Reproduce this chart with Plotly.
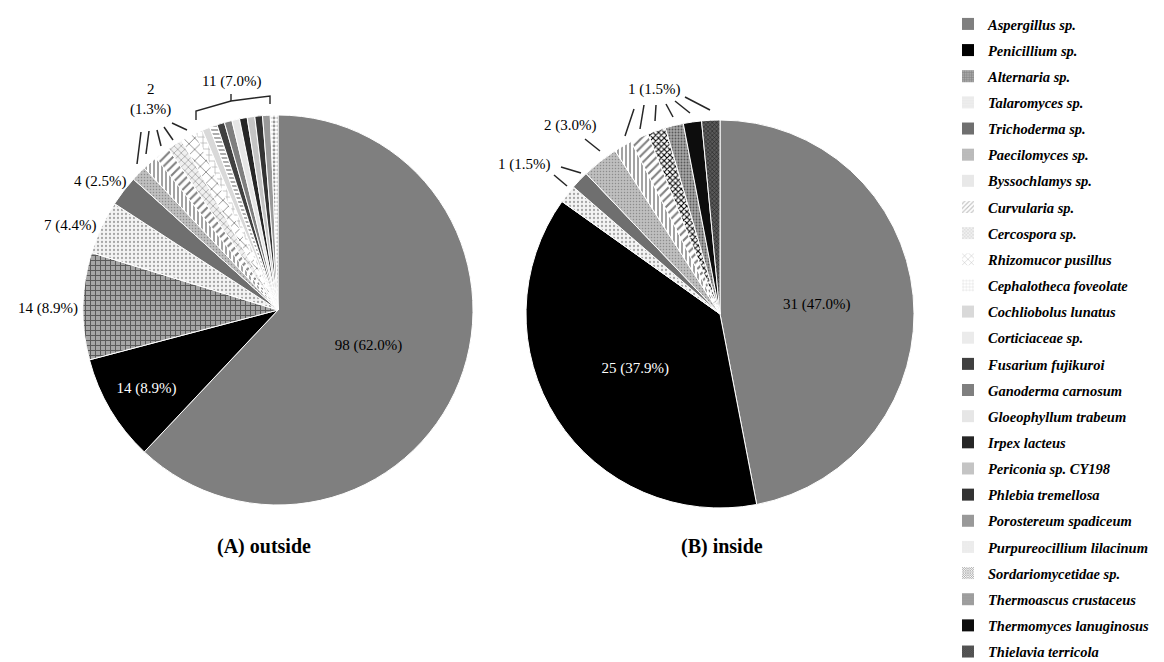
import plotly.graph_objects as go

# ---------------- data ----------------
categories = [
    "Aspergillus sp.", "Penicillium sp.", "Alternaria sp.", "Talaromyces sp.",
    "Trichoderma sp.", "Paecilomyces sp.", "Byssochlamys sp.", "Curvularia sp.",
    "Cercospora sp.", "Rhizomucor pusillus", "Cephalotheca foveolate",
    "Cochliobolus lunatus", "Corticiaceae sp.", "Fusarium fujikuroi",
    "Ganoderma carnosum", "Gloeophyllum trabeum", "Irpex lacteus",
    "Periconia sp. CY198", "Phlebia tremellosa", "Porostereum spadiceum",
    "Purpureocillium lilacinum", "Sordariomycetidae sp.",
    "Thermoascus crustaceus", "Thermomyces lanuginosus", "Thielavia terricola",
]
outside_counts = [98, 14, 14, 7, 4, 2, 2, 2, 2, 2,
                  1, 1, 1, 1, 1, 1, 1, 1, 1, 1, 1,
                  0, 0, 0, 0]
inside_counts = [31, 25, 0, 1, 1, 2, 1, 1, 0, 0,
                 0, 0, 0, 0, 0, 0, 0, 0, 0, 0, 0,
                 1, 1, 1, 1]
panel_titles = ["(A) outside", "(B) inside"]

# ---------------- styles (bg, fg, pattern shape, size, solidity) ----------------
styles = {
    "Aspergillus sp.": ("#7f7f7f", "#7f7f7f", "", 8, 0.3),
    "Penicillium sp.": ("#000000", "#000000", "", 8, 0.3),
    "Alternaria sp.": ("#a6a6a6", "#595959", "+", 5, 0.35),
    "Talaromyces sp.": ("#f4f4f4", "#a6a6a6", ".", 4, 0.25),
    "Trichoderma sp.": ("#6f6f6f", "#6f6f6f", "", 8, 0.3),
    "Paecilomyces sp.": ("#bfbfbf", "#8c8c8c", ".", 3, 0.2),
    "Byssochlamys sp.": ("#ffffff", "#8c8c8c", "|", 4, 0.4),
    "Curvularia sp.": ("#ffffff", "#808080", "/", 6, 0.35),
    "Cercospora sp.": ("#f0f0f0", "#999999", "x", 5, 0.25),
    "Rhizomucor pusillus": ("#ffffff", "#595959", "x", 8, 0.15),
    "Cephalotheca foveolate": ("#ffffff", "#a6a6a6", "+", 6, 0.2),
    "Cochliobolus lunatus": ("#d9d9d9", "#d9d9d9", "", 8, 0.3),
    "Corticiaceae sp.": ("#ffffff", "#999999", "-", 4, 0.4),
    "Fusarium fujikuroi": ("#404040", "#404040", "", 8, 0.3),
    "Ganoderma carnosum": ("#7f7f7f", "#7f7f7f", "", 8, 0.3),
    "Gloeophyllum trabeum": ("#e6e6e6", "#e6e6e6", "", 8, 0.3),
    "Irpex lacteus": ("#262626", "#262626", "", 8, 0.3),
    "Periconia sp. CY198": ("#c4c4c4", "#c4c4c4", "", 8, 0.3),
    "Phlebia tremellosa": ("#333333", "#333333", "", 8, 0.3),
    "Porostereum spadiceum": ("#999999", "#999999", "", 8, 0.3),
    "Purpureocillium lilacinum": ("#ffffff", "#999999", ".", 4, 0.4),
    "Sordariomycetidae sp.": ("#ffffff", "#000000", "x", 4, 0.45),
    "Thermoascus crustaceus": ("#a6a6a6", "#595959", ".", 3, 0.3),
    "Thermomyces lanuginosus": ("#0d0d0d", "#0d0d0d", "", 8, 0.3),
    "Thielavia terricola": ("#595959", "#1a1a1a", "x", 3, 0.3),
}

W, H = 1164, 662
def fx(x):
    return x / W
def fy(y):
    return 1 - y / H

SERIF = "Liberation Serif"

# pie placement (pixel centre, radius)
pie_geom = [(270, 302, 195), (712, 306, 194)]
big_text_colors = {"Aspergillus sp.": "black", "Penicillium sp.": "white"}

fig = go.Figure()

for counts, (cx, cy, r) in zip([outside_counts, inside_counts], pie_geom):
    labs, vals = [], []
    for c, v in zip(categories, counts):
        if v > 0:
            labs.append(c)
            vals.append(v)
    st = [styles[c] for c in labs]
    big = [c in big_text_colors for c in labs]
    fig.add_trace(go.Pie(
        labels=labs, values=vals, sort=False, direction="clockwise", rotation=0,
        domain=dict(x=[fx(cx - r), fx(cx + r)], y=[fy(cy + r), fy(cy - r)]),
        marker=dict(
            colors=[s[0] for s in st],
            line=dict(color="white", width=1),
            pattern=dict(
                shape=[s[2] for s in st],
                fgcolor=[s[1] for s in st],
                bgcolor=[s[0] for s in st],
                size=[s[3] for s in st],
                solidity=[s[4] for s in st],
                fillmode="replace",
            ),
        ),
        texttemplate=["%{value} (%{percent:.1%})" if b else "" for b in big],
        textposition=["inside" if b else "none" for b in big],
        insidetextorientation="horizontal",
        textfont=dict(family=SERIF, size=15,
                      color=[big_text_colors.get(c, "black") for c in labs]),
        showlegend=False,
        hoverinfo="label+value+percent",
    ))

# legend entries (patterned swatches), one group per category for spacing
for c in categories:
    bg, fg, shp, sz, sol = styles[c]
    fig.add_trace(go.Bar(
        x=[None], y=[None], name=c, legendgroup=c, showlegend=True,
        marker=dict(color=bg, line=dict(width=0),
                    pattern=dict(shape=shp, fgcolor=fg, bgcolor=bg,
                                 size=max(sz - 2, 2), solidity=sol)),
    ))

# outside labels
tot_o = sum(outside_counts)
tot_i = sum(inside_counts)
def lab(v, tot, br=False):
    sep = "<br>" if br else " "
    return f"{v}{sep}({v / tot * 100:.1f}%)"

label_specs = [
    (lab(outside_counts[2], tot_o), 40, 300),
    (lab(outside_counts[3], tot_o), 62, 217),
    (lab(outside_counts[4], tot_o), 93, 173),
    (lab(outside_counts[5], tot_o, br=True), 142, 92),
    (lab(sum(outside_counts[10:21]), tot_o), 223, 73),
    (lab(inside_counts[6], tot_i), 646, 82),
    (lab(inside_counts[5], tot_i), 562, 118),
    (lab(inside_counts[3], tot_i), 516, 156),
]
annotations = []
for text, x, y in label_specs:
    annotations.append(dict(text=text, x=fx(x), y=fy(y), xref="paper", yref="paper",
                            showarrow=False, xanchor="center", yanchor="middle",
                            font=dict(family=SERIF, size=15, color="black")))

title_pos = [(256, 538), (714, 538)]
for t, (x, y) in zip(panel_titles, title_pos):
    annotations.append(dict(text=f"<b>{t}</b>", x=fx(x), y=fy(y), xref="paper", yref="paper",
                            showarrow=False, xanchor="center", yanchor="middle",
                            font=dict(family=SERIF, size=20, color="black")))

# leader lines (pixel endpoints)
leaders = [
    (133, 124, 129, 156), (141, 123, 138, 146), (149, 122, 153, 138),
    (156, 119, 165, 132), (164, 115, 179, 122),
    (626, 101, 617, 128), (636, 97, 632, 121), (648, 97, 647, 113),
    (658, 96, 665, 109), (667, 93, 682, 105), (677, 89, 702, 102),
    (577, 131, 592, 143),
    (553, 159, 573, 165), (546, 167, 559, 178),
]
shapes = []
for x0, y0, x1, y1 in leaders:
    shapes.append(dict(type="line", xref="paper", yref="paper",
                       x0=fx(x0), y0=fy(y0), x1=fx(x1), y1=fy(y1),
                       line=dict(color="#262626", width=1.5)))

# bracket for the grouped single-isolate slices
bracket = [(188, 112), (188, 103), (223, 93), (262, 88), (262, 96)]
path = "M " + " L ".join(f"{fx(x):.5f},{fy(y):.5f}" for x, y in bracket)
shapes.append(dict(type="path", xref="paper", yref="paper", path=path,
                   line=dict(color="#262626", width=1.4)))
shapes.append(dict(type="line", xref="paper", yref="paper",
                   x0=fx(223), y0=fy(93), x1=fx(223), y1=fy(86),
                   line=dict(color="#262626", width=1.4)))

fig.update_layout(
    width=W, height=H,
    margin=dict(l=0, r=0, t=0, b=0),
    paper_bgcolor="white", plot_bgcolor="white",
    xaxis=dict(visible=False), yaxis=dict(visible=False),
    annotations=annotations, shapes=shapes,
    legend=dict(x=fx(940), xanchor="left", y=1.0, yanchor="top",
                font=dict(family=SERIF, size=14.5, color="black",
                          weight="bold", style="italic"),
                tracegroupgap=4.3, itemwidth=30, bgcolor="rgba(0,0,0,0)",
                traceorder="grouped"),
    hovermode="closest",
)

fig.write_html("out.html")
